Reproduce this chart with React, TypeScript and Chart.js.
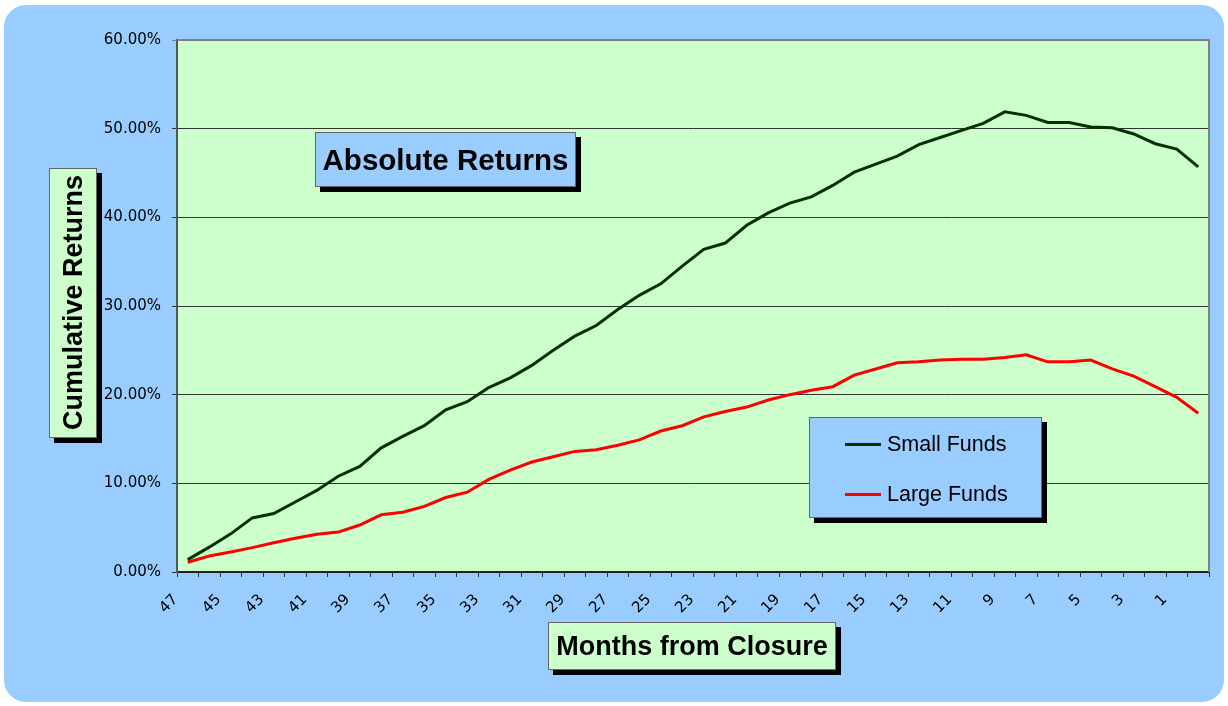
import React, { useEffect, useRef } from 'react';
import { Chart, registerables } from 'chart.js';

Chart.register(...registerables);

const months = ['47','46','45','44','43','42','41','40','39','38','37','36','35','34','33','32','31','30','29','28','27','26','25','24','23','22','21','20','19','18','17','16','15','14','13','12','11','10','9','8','7','6','5','4','3','2','1','0'];

const smallFunds = [1.4, 2.8, 4.3, 6.1, 6.6, 7.9, 9.2, 10.8, 11.9, 14.0, 15.3, 16.5, 18.3, 19.2, 20.8, 21.9, 23.3, 25.0, 26.6, 27.8, 29.6, 31.2, 32.5, 34.5, 36.4, 37.1, 39.1, 40.5, 41.6, 42.3, 43.6, 45.1, 46.0, 46.9, 48.2, 49.0, 49.8, 50.6, 51.9, 51.5, 50.7, 50.7, 50.2, 50.1, 49.4, 48.3, 47.7, 45.7];

const largeFunds = [1.1, 1.8, 2.25, 2.75, 3.3, 3.8, 4.25, 4.5, 5.3, 6.45, 6.75, 7.4, 8.4, 9.0, 10.45, 11.5, 12.4, 13.0, 13.6, 13.8, 14.3, 14.9, 15.9, 16.5, 17.5, 18.1, 18.6, 19.4, 20.0, 20.5, 20.9, 22.2, 22.9, 23.6, 23.7, 23.9, 24.0, 24.0, 24.2, 24.5, 23.7, 23.7, 23.9, 22.9, 22.1, 20.9, 19.7, 17.9];

const seriesNames = ['Small Funds', 'Large Funds'];
const seriesColors = ['#003300', '#FF0000'];

const yMin = 0;
const yMax = 60;
const yStep = 10;

const W = 1228;
const H = 706;
const FONT = '"Liberation Sans", Arial, sans-serif';

export default function App() {
  const canvasRef = useRef<HTMLCanvasElement | null>(null);

  useEffect(() => {
    document.body.style.margin = '0';
    const canvas = canvasRef.current;
    if (!canvas) return;

    const plotBg = {
      id: 'plotBg',
      beforeDraw(chart: any) {
        const { ctx, chartArea: a } = chart;
        ctx.save();
        ctx.fillStyle = '#CCFFCC';
        ctx.fillRect(a.left, a.top, a.right - a.left, a.bottom - a.top);
        ctx.restore();
      },
      beforeDatasetsDraw(chart: any) {
        const { ctx, chartArea: a } = chart;
        ctx.save();
        ctx.strokeStyle = '#808080';
        ctx.lineWidth = 2;
        ctx.beginPath();
        ctx.moveTo(a.left, a.top);
        ctx.lineTo(a.right, a.top);
        ctx.lineTo(a.right, a.bottom);
        ctx.stroke();
        ctx.restore();
      },
    };

    const chart = new Chart(canvas, {
      type: 'line',
      data: {
        labels: months,
        datasets: [
          {
            label: seriesNames[0],
            data: smallFunds,
            borderColor: seriesColors[0],
            backgroundColor: seriesColors[0],
            borderWidth: 3,
            pointRadius: 0,
            tension: 0,
            fill: false,
          },
          {
            label: seriesNames[1],
            data: largeFunds,
            borderColor: seriesColors[1],
            backgroundColor: seriesColors[1],
            borderWidth: 3,
            pointRadius: 0,
            tension: 0,
            fill: false,
          },
        ],
      },
      options: {
        responsive: false,
        animation: false,
        devicePixelRatio: 1,
        layout: { padding: { left: 0, top: 40, right: 19, bottom: 0 } },
        plugins: {
          legend: { display: false },
          tooltip: { enabled: false },
          title: { display: false },
        },
        scales: {
          x: {
            type: 'category',
            offset: true,
            afterFit(scale: any) {
              scale.height = H - 572;
            },
            grid: {
              offset: true,
              drawOnChartArea: false,
              drawTicks: true,
              tickLength: 5,
              color: '#333333',
              lineWidth: 1,
            },
            border: { display: true, color: '#222222', width: 2 },
            ticks: {
              autoSkip: false,
              minRotation: 45,
              maxRotation: 45,
              labelOffset: -12,
              padding: 14,
              color: '#000000',
              font: { family: '"DejaVu Sans", sans-serif', size: 15 },
              callback(this: any, value: any, index: number) {
                return index % 2 === 0 ? months[index] : '';
              },
            },
          },
          y: {
            min: yMin,
            max: yMax,
            afterFit(scale: any) {
              scale.width = 177;
            },
            grid: {
              drawOnChartArea: true,
              drawTicks: true,
              tickLength: 5,
              color: (ctx: any) => (ctx.tick && ctx.tick.value === yMax ? '#808080' : '#333333'),
              lineWidth: 1,
            },
            border: { display: true, color: '#555555', width: 2 },
            ticks: {
              stepSize: yStep,
              padding: 11,
              color: '#000000',
              font: { family: '"DejaVu Sans", sans-serif', size: 15 },
              callback(value: any) {
                return Number(value).toFixed(2) + '%';
              },
            },
          },
        },
      },
      plugins: [plotBg],
    });

    return () => {
      chart.destroy();
    };
  }, []);

  const boxBase: React.CSSProperties = {
    position: 'absolute',
    boxSizing: 'border-box',
    border: '1px solid #666666',
    boxShadow: '5px 5px 0 #000000',
    display: 'flex',
    alignItems: 'center',
    justifyContent: 'center',
    fontFamily: FONT,
    fontWeight: 'bold',
    color: '#000000',
    whiteSpace: 'nowrap',
  };

  return (
    <div style={{ position: 'fixed', left: 0, top: 0, width: W, height: H, background: '#FFFFFF', overflow: 'hidden' }}>
      <div style={{ position: 'absolute', left: 4, top: 5, width: 1220, height: 697, borderRadius: 22, background: '#99CCFF' }} />
      <canvas ref={canvasRef} width={W} height={H} style={{ position: 'absolute', left: 0, top: 0, width: W, height: H }} />
      <div style={{ ...boxBase, left: 315, top: 132, width: 261, height: 55, background: '#99CCFF', fontSize: 29.5 }}>
        Absolute Returns
      </div>
      <div style={{ ...boxBase, left: 49, top: 168, width: 48, height: 270, background: '#CCFFCC', fontSize: 27 }}>
        <span style={{ writingMode: 'vertical-rl', transform: 'rotate(180deg)' }}>Cumulative Returns</span>
      </div>
      <div style={{ ...boxBase, left: 548, top: 622, width: 288, height: 48, background: '#CCFFCC', fontSize: 27 }}>
        Months from Closure
      </div>
      <div style={{ ...boxBase, left: 809, top: 417, width: 233, height: 101, background: '#99CCFF', display: 'block', fontWeight: 'normal' }}>
        {seriesNames.map((name, i) => (
          <div key={name} style={{ position: 'absolute', left: 35, top: 26 + i * 50 - 13, height: 26, display: 'flex', alignItems: 'center', fontSize: 21.5 }}>
            <span style={{ display: 'inline-block', width: 36, height: 3, background: seriesColors[i], marginRight: 6 }} />
            <span>{name}</span>
          </div>
        ))}
      </div>
    </div>
  );
}
